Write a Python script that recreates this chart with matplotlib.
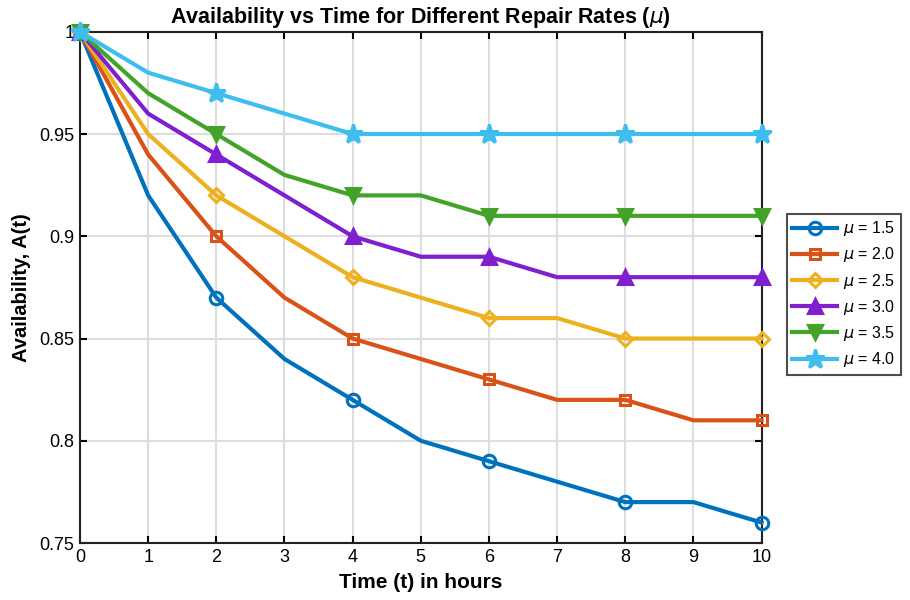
import matplotlib
matplotlib.use("Agg")
import matplotlib.pyplot as plt
import numpy as np

t = [0, 1, 2, 3, 4, 5, 6, 7, 8, 9, 10]
mu_labels = ["1.5", "2.0", "2.5", "3.0", "3.5", "4.0"]
a15 = [1.00, 0.92, 0.87, 0.84, 0.82, 0.80, 0.79, 0.78, 0.77, 0.77, 0.76]
a20 = [1.00, 0.94, 0.90, 0.87, 0.85, 0.84, 0.83, 0.82, 0.82, 0.81, 0.81]
a25 = [1.00, 0.95, 0.92, 0.90, 0.88, 0.87, 0.86, 0.86, 0.85, 0.85, 0.85]
a30 = [1.00, 0.96, 0.94, 0.92, 0.90, 0.89, 0.89, 0.88, 0.88, 0.88, 0.88]
a35 = [1.00, 0.97, 0.95, 0.93, 0.92, 0.92, 0.91, 0.91, 0.91, 0.91, 0.91]
a40 = [1.00, 0.98, 0.97, 0.96, 0.95, 0.95, 0.95, 0.95, 0.95, 0.95, 0.95]
series = [a15, a20, a25, a30, a35, a40]

colors = ["#0072BD", "#D95319", "#EDB120", "#7F1FD0", "#43A329", "#3DBEEE"]
markers = ["o", "s", "D", "^", "v", "*"]
msizes = [9, 6.5, 7.5, 10, 10, 14]
filled = [False, False, False, True, True, True]

plt.rcParams["font.family"] = ["Liberation Sans", "DejaVu Sans"]
fig = plt.figure(figsize=(9.1, 6), dpi=100)
ax = fig.add_axes([0.0879, 0.095, 0.749, 0.852])

for y, lab, c, m, ms, f in zip(series, mu_labels, colors, markers, msizes, filled):
    ax.plot(t, y, color=c, lw=3, marker=m, markersize=ms, markevery=2,
            markerfacecolor=(c if f else "none"), markeredgecolor=c,
            markeredgewidth=2.2, label=r"$\mu$ = " + lab, clip_on=False, zorder=3)

ax.set_xlim(0, 10)
ax.set_ylim(0.75, 1.0)
ax.set_xticks(range(0, 11))
ax.set_yticks([0.75, 0.8, 0.85, 0.9, 0.95, 1.0])
ax.set_yticklabels(["0.75", "0.8", "0.85", "0.9", "0.95", "1"])
ax.grid(True, color="#DDDDDD", lw=1.5)
ax.set_axisbelow(True)
for s in ax.spines.values():
    s.set_linewidth(1.5)
    s.set_color("#222222")
ax.tick_params(direction="in", length=5, width=1.5, labelsize=13, top=True, right=True, pad=4)
ax.set_xlabel("Time (t) in hours", fontsize=15, fontweight="bold", labelpad=5)
ax.set_ylabel("Availability, A(t)", fontsize=14.5, fontweight="bold", labelpad=6)
ax.set_title(r"Availability vs Time for Different Repair Rates ($\mu$)", fontsize=15.5,
             fontweight="bold", pad=6)

leg = ax.legend(loc="upper left", bbox_to_anchor=(1.025, 0.66), fontsize=11.5,
                frameon=True, fancybox=False, edgecolor="#222222", handlelength=2.8,
                borderpad=0.35, labelspacing=0.45, handletextpad=0.4)
leg.get_frame().set_linewidth(1.5)

fig.savefig("out.png", dpi=100)
